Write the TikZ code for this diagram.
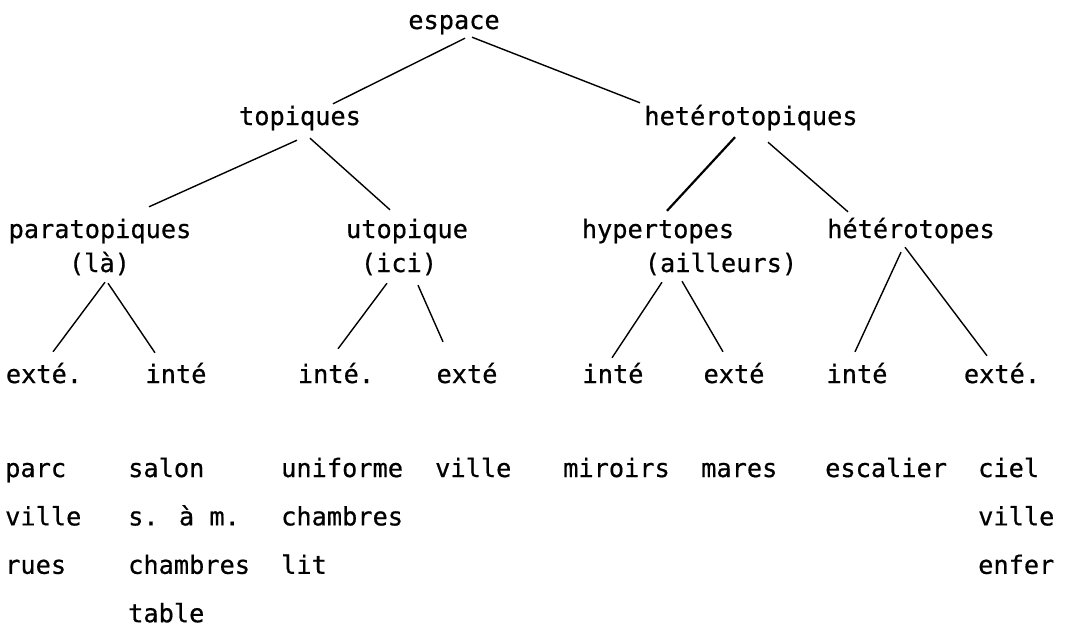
\documentclass[tikz,border=0pt]{standalone}
\usepackage{fontspec}
\setmainfont{DejaVu Sans Mono}[FakeBold=0.6]
\usetikzlibrary{positioning}

\begin{document}
\begin{tikzpicture}[x=1pt, y=-1pt,
  node distance=23pt and 0pt,
  every node/.style={font=\fontsize{25.3}{30}\selectfont, inner sep=0pt,
                     text height=19pt, text depth=6pt},
  term/.style={anchor=base},
  item/.style={anchor=base west},
  edge/.style={draw, line width=1.4pt},
  heavy/.style={draw, line width=2.2pt},
]
\useasboundingbox (0,0) rectangle (1089,627);
% tree
\node[term] (espace) at (454,29)   {espace};
\node[term] (top)    at (300,125)  {topiques};
\node[term] (het)    at (751,125)  {hetérotopiques};
\node[term] (para)   at (100,238)  {paratopiques};
\node[term] (la)     at (99.5,272) {(là)};
\node[term] (uto)    at (407,238)  {utopique};
\node[term] (ici)    at (399,272)  {(ici)};
\node[term] (hyper)  at (658,238)  {hypertopes};
\node[term] (ail)    at (721,272)  {(ailleurs)};
\node[term] (hetero) at (911,238)  {hétérotopes};
\node[term] (paraext) at (44,383)   {exté.};
\node[term] (paraint) at (176,383)  {inté};
\node[term] (utoint)  at (336,383)  {inté.};
\node[term] (utoext)  at (467,383)  {exté};
\node[term] (hypint)  at (613,383)  {inté};
\node[term] (hypext)  at (734,383)  {exté};
\node[term] (hetint)  at (857,383)  {inté};
\node[term] (hetext)  at (1002,383) {exté.};
% lists
\node[item] (parc) at (5,477) {parc};
\node[below right=of parc.south west] (ville1) {ville};
\node[below right=of ville1.south west] (rues) {rues};
\node[item] (salon) at (128,477) {salon};
\node[below right=of salon.south west] (sam) {s. à m.};
\node[below right=of sam.south west] (chambres1) {chambres};
\node[below right=of chambres1.south west] (table) {table};
\node[item] (uniforme) at (281,477) {uniforme};
\node[below right=of uniforme.south west] (chambres2) {chambres};
\node[below right=of chambres2.south west] (lit) {lit};
\node[item] (ville2) at (435,477) {ville};
\node[item] (miroirs) at (563,477) {miroirs};
\node[item] (mares) at (701,477) {mares};
\node[item] (escalier) at (825,477) {escalier};
\node[item] (ciel) at (978,477) {ciel};
\node[below right=of ciel.south west] (ville3) {ville};
\node[below right=of ville3.south west] (enfer) {enfer};
% branches
\draw[edge] ([shift={(11,3)}]espace.south) -- ([shift={(33,-2)}]top.north);
\draw[edge] ([shift={(18,2)}]espace.south) -- ([shift={(-111,-3)}]het.north);
\draw[edge] ([shift={(-3,9)}]top.south) -- ([shift={(49,-12)}]para.north);
\draw[edge] ([shift={(10,7)}]top.south) -- ([shift={(-17,-9)}]uto.north);
\draw[heavy] ([shift={(-16,6)}]het.south) -- ([shift={(9,-8)}]hyper.north);
\draw[edge] ([shift={(17,11)}]het.south) -- ([shift={(-63,-7)}]hetero.north);
\draw[edge] ([shift={(5.5,4)}]la.south) -- ([shift={(9,-12)}]paraext.north);
\draw[edge] ([shift={(8.5,5)}]la.south) -- ([shift={(-21,-11)}]paraint.north);
\draw[edge] ([shift={(-12,5)}]ici.south) -- ([shift={(2,-15)}]utoint.north);
\draw[edge] ([shift={(19,7)}]ici.south) -- ([shift={(-24,-22)}]utoext.north);
\draw[edge] ([shift={(-59,4)}]ail.south) -- ([shift={(-1,-6)}]hypint.north);
\draw[edge] ([shift={(-39,3)}]ail.south) -- ([shift={(-11,-12)}]hypext.north);
\draw[edge] ([shift={(-10,8)}]hetero.south) -- ([shift={(-2,-12)}]hetint.north);
\draw[edge] ([shift={(-6,3)}]hetero.south) -- ([shift={(-15,-8)}]hetext.north);
\end{tikzpicture}
\end{document}
